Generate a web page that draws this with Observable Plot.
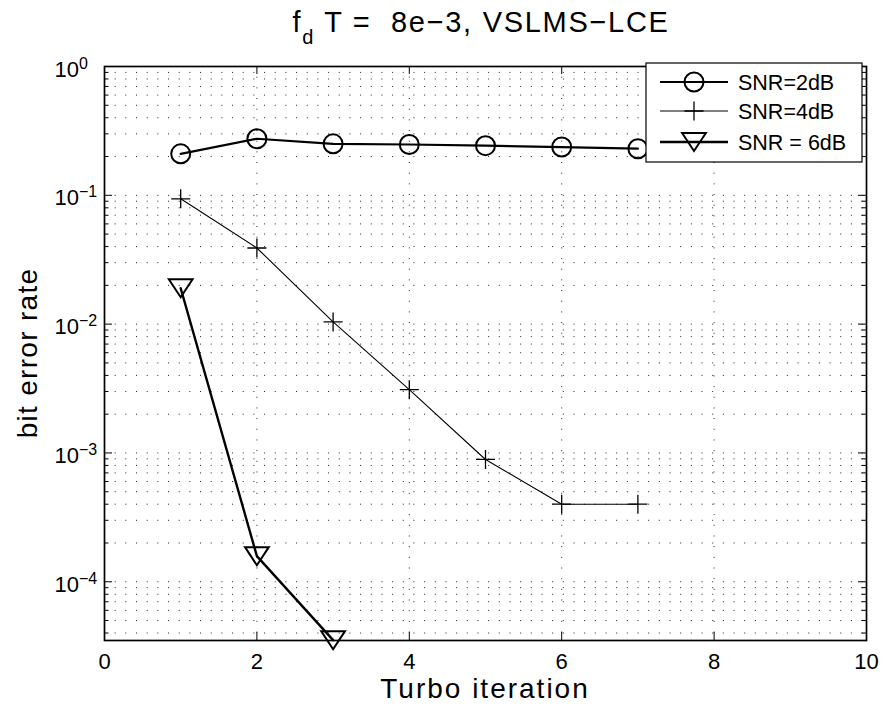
<!DOCTYPE html>
<html><head><meta charset="utf-8">
<script src="https://cdn.jsdelivr.net/npm/d3@7"></script>
<script src="https://cdn.jsdelivr.net/npm/@observablehq/plot@0.6"></script>
<style>
body{margin:0;background:#fff;}
#chart svg{font-family:"Liberation Sans",Arial,Helvetica,sans-serif;overflow:visible;}
</style>
</head><body><div id="chart"></div>
<script>
// ---- data ----
const iterations = [1, 2, 3, 4, 5, 6, 7];
const ber2dB = [0.21, 0.275, 0.251, 0.248, 0.243, 0.237, 0.230];
const ber4dB = [0.094, 0.039, 0.0104, 0.0031, 0.00089, 0.0004, 0.0004];
const iterations6dB = [1, 2, 3];
const ber6dB = [0.019, 0.000158, 0.0000352];
const seriesNames = ["SNR=2dB", "SNR=4dB", "SNR = 6dB"];
const xTicks = [0, 2, 4, 6, 8, 10];
const yTicks = [1e-4, 1e-3, 1e-2, 1e-1, 1];
const xDomain = [0, 10];
const yDomain = [3.5e-5, 1];
const titleMain = "f", titleSub = "d", titleRest = " T =  8e\u22123, VSLMS\u2212LCE";
const xLabel = "Turbo iteration";
const yLabel = "bit error rate";

// ---- derived ----
const W = 883, H = 710, mL = 104, mR = 17, mT = 66, mB = 70;
const pw = W - mL - mR, ph = H - mT - mB;
const yGrid = [];
for (let e = -5; e <= -1; e++) for (let m = 1; m <= 9; m++) {
  const v = m * Math.pow(10, e);
  if (v >= yDomain[0] && v < 1) yGrid.push(v);
}
const yMinor = yGrid.filter(v => !yTicks.some(t => Math.abs(t - v) / t < 1e-9));
const xGrid = xTicks.filter(v => v > xDomain[0] && v < xDomain[1]);
const d2 = iterations.map((x, i) => ({x, y: ber2dB[i]}));
const d4 = iterations.map((x, i) => ({x, y: ber4dB[i]}));
const d6 = iterations6dB.map((x, i) => ({x, y: ber6dB[i]}));

const plusSym = {draw(ctx, size) { const r = Math.sqrt(size / Math.PI);
  ctx.moveTo(-r, 0); ctx.lineTo(r, 0); ctx.moveTo(0, -r); ctx.lineTo(0, r); }};
const triDown = {draw(ctx, size) { const r = Math.sqrt(size / Math.PI);
  ctx.moveTo(-1.25 * r, -0.95 * r); ctx.lineTo(1.25 * r, -0.95 * r); ctx.lineTo(0, 0.95 * r); ctx.closePath(); }};

const dotted = {stroke: "#222", strokeWidth: 1, strokeDasharray: "1,9.67"};
const major = 8, minor = 4.5;

const plot = Plot.plot({
  width: W, height: H,
  marginLeft: mL, marginRight: mR, marginTop: mT, marginBottom: mB,
  x: {domain: xDomain, label: null},
  y: {type: "log", domain: yDomain, label: null},
  style: {fontFamily: '"Liberation Sans",Arial,Helvetica,sans-serif', background: "white"},
  marks: [
    Plot.ruleY(yGrid, {y: d => d, ...dotted}),
    Plot.ruleX(xGrid, {x: d => d, ...dotted}),
    Plot.line(d2, {x: "x", y: "y", stroke: "black", strokeWidth: 2.2}),
    Plot.line(d4, {x: "x", y: "y", stroke: "black", strokeWidth: 1.1}),
    Plot.line(d6, {x: "x", y: "y", stroke: "black", strokeWidth: 2.4}),
    Plot.dot(d2, {x: "x", y: "y", symbol: "circle", r: 9.5, fill: "none", stroke: "black", strokeWidth: 2}),
    Plot.dot(d4, {x: "x", y: "y", symbol: plusSym, r: 9.5, fill: "none", stroke: "black", strokeWidth: 1.3}),
    Plot.dot(d6, {x: "x", y: "y", symbol: triDown, r: 9.5, fill: "none", stroke: "black", strokeWidth: 2}),
    // inward ticks on all four sides
    Plot.tickY(yTicks, {y: d => d, insetRight: pw - major, stroke: "black", strokeWidth: 1}),
    Plot.tickY(yTicks, {y: d => d, insetLeft: pw - major, stroke: "black", strokeWidth: 1}),
    Plot.tickY(yMinor, {y: d => d, insetRight: pw - minor, stroke: "black", strokeWidth: 1}),
    Plot.tickY(yMinor, {y: d => d, insetLeft: pw - minor, stroke: "black", strokeWidth: 1}),
    Plot.tickX(xTicks, {x: d => d, insetTop: ph - major, stroke: "black", strokeWidth: 1}),
    Plot.tickX(xTicks, {x: d => d, insetBottom: ph - major, stroke: "black", strokeWidth: 1}),
    Plot.frame({stroke: "black", strokeWidth: 1.7}),
    Plot.axisX({ticks: xTicks, tickSize: 0, tickPadding: 13, fontSize: 22, tickFormat: d => String(d), label: null}),
    Plot.axisY({ticks: yTicks, tickSize: 0, tickPadding: 50, textAnchor: "start", dy: 3, fontSize: 22,
      tickFormat: d => String(Math.round(Math.log10(d))).replace("-", "\u2212"), label: null})
  ]
});
document.getElementById("chart").appendChild(plot);
const svg = d3.select(plot);

// superscript exponents on y tick labels
svg.selectAll('[aria-label="y-axis tick label"] text').each(function() {
  const t = d3.select(this); const e = t.text(); t.text("");
  t.append("tspan").text("10");
  t.append("tspan").attr("dy", "-0.5em").attr("font-size", 16).text(e);
});

const cx = mL + pw / 2;
// title
const title = svg.append("text").attr("x", cx - 4).attr("y", 32).attr("text-anchor", "middle")
  .attr("font-size", 29).attr("fill", "black").style("letter-spacing", "1.7px").attr("xml:space", "preserve");
title.append("tspan").text(titleMain);
title.append("tspan").attr("font-size", 20).attr("dy", 12).text(titleSub);
title.append("tspan").attr("dy", -12).text(titleRest);
// axis labels
svg.append("text").attr("x", cx).attr("y", 698).attr("text-anchor", "middle").attr("font-size", 28)
  .style("letter-spacing", "2px").attr("fill", "black").text(xLabel);
svg.append("text").attr("transform", `translate(37,${mT + ph / 2}) rotate(-90)`).attr("text-anchor", "middle")
  .attr("font-size", 28).style("letter-spacing", "1.3px").attr("fill", "black").text(yLabel);

// legend
const lg = svg.append("g").attr("text-anchor", "start");
lg.append("rect").attr("x", 646).attr("y", 63).attr("width", 216).attr("height", 99)
  .attr("fill", "white").attr("stroke", "black").attr("stroke-width", 1.2);
const rows = [
  {y: 82, sym: d3.symbolCircle, lw: 2.2, mw: 2},
  {y: 111, sym: plusSym, lw: 1.1, mw: 1.3},
  {y: 142, sym: triDown, lw: 2.4, mw: 2}
];
rows.forEach((r, i) => {
  lg.append("line").attr("x1", 660).attr("x2", 728).attr("y1", r.y).attr("y2", r.y)
    .attr("stroke", "black").attr("stroke-width", r.lw);
  lg.append("path").attr("transform", `translate(694,${r.y})`)
    .attr("d", d3.symbol(r.sym, Math.PI * 9.5 * 9.5)()).attr("fill", "none").attr("stroke", "black").attr("stroke-width", r.mw);
  lg.append("text").attr("x", 738).attr("y", r.y + 7.5).attr("font-size", 21.5).attr("fill", "black")
    .attr("text-anchor", "start").attr("xml:space", "preserve").text(seriesNames[i]);
});
</script>
</body></html>
